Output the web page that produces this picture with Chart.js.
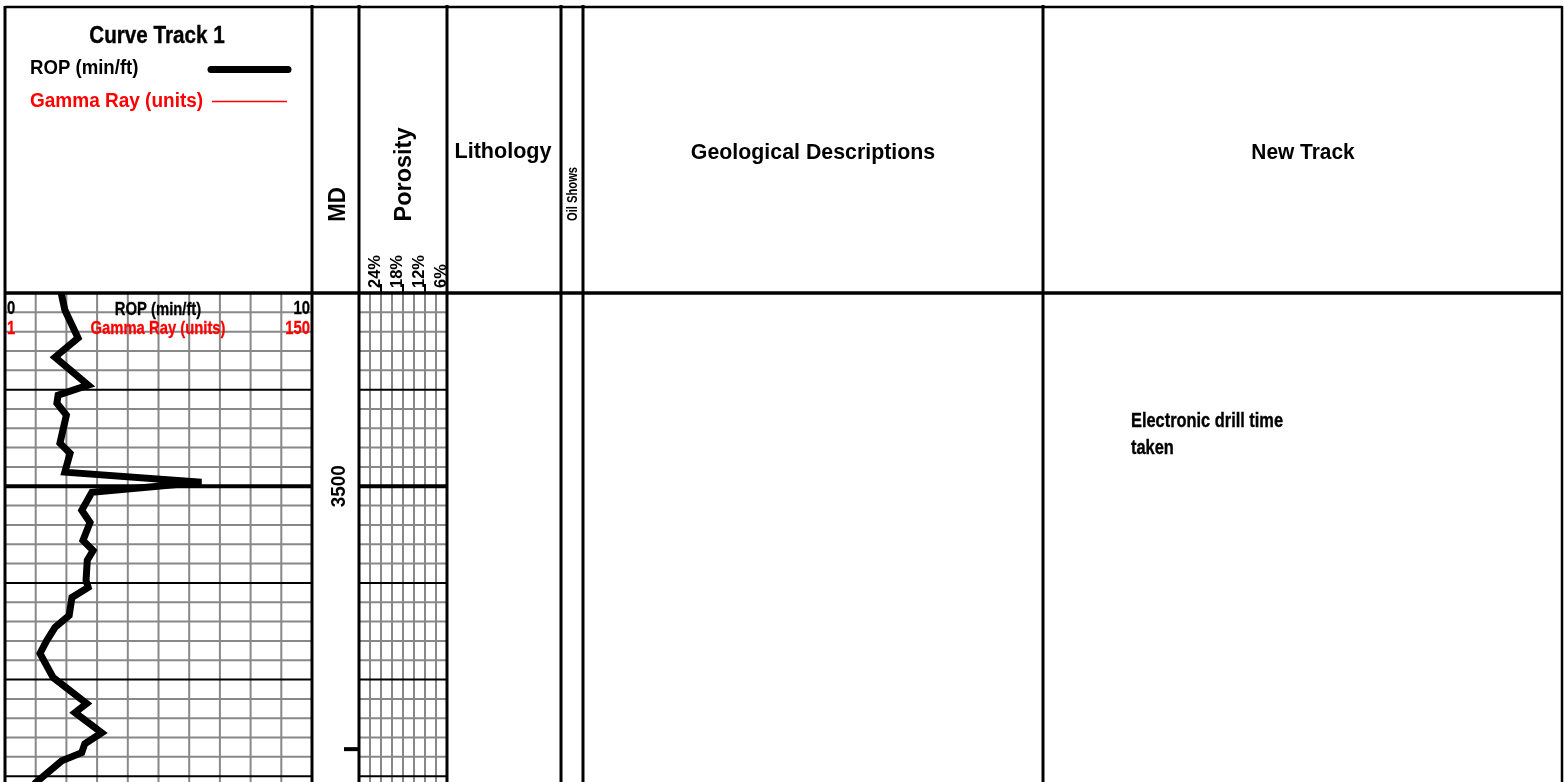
<!DOCTYPE html>
<html><head><meta charset="utf-8">
<script src="https://cdn.jsdelivr.net/npm/chart.js@4.4.1/dist/chart.umd.min.js"></script>
<style>html,body{margin:0;padding:0;background:#fff;overflow:hidden}canvas{display:block}</style>
</head><body>
<canvas id="c" width="1564" height="782"></canvas>
<script>
// ---- data ----
const ropDepth  = [3400,3408.8,3423.3,3433.2,3447.7,3452.8,3457,3463.2,3477.7,3482.9,3492.7,3497.9,3503.1,3512.4,3518.7,3528,3533.2,3538.3,3548.7,3552.3,3557.5,3566.8,3573,3579.8,3586.5,3599,3612.4,3617.1,3627.5,3633.2,3637.8,3642,3652.3,3654];
const ropValues = [1.83,1.95,2.38,1.63,2.71,1.73,1.69,2.0,1.79,2.12,1.95,6.4,2.83,2.5,2.77,2.54,2.87,2.68,2.64,2.71,2.18,2.09,1.63,1.36,1.14,1.57,2.66,2.28,3.15,2.6,2.5,1.85,1.08,0.95];
const gammaDepth = [];
const gammaValues = [];
const depthMin = 3400, depthMax = 3653;
const ropMin = 0, ropMax = 10;
const gammaMin = 1, gammaMax = 150;
const minorDepthStep = 10, midDepthStep = 50;
const mdLabels = [3500];
const mdTickDepths = [3636];
const porosityLeft = 30, porosityRight = 6, porosityMinorStep = 3;
const porosityTicks = [24, 18, 12, 6];
const trackTitles = ['Curve Track 1','MD','Porosity','Lithology','Oil Shows','Geological Descriptions','New Track'];
const notes = [{depth: 3469.3, lines: ['Electronic drill time','taken']}];

const FONT = '"Liberation Sans", Arial, Helvetica, sans-serif';
function txt(ctx, s, x, y, o) {
  ctx.save();
  ctx.translate(x, y);
  if (o.rot) ctx.rotate(-Math.PI / 2);
  ctx.scale(o.sx || 1, 1);
  ctx.font = (o.w || 'bold') + ' ' + o.size + 'px ' + FONT;
  ctx.fillStyle = o.color || '#000';
  ctx.textAlign = o.align || 'left';
  ctx.textBaseline = 'alphabetic';
  ctx.fillText(s, 0, 0);
  if (o.stroke) { ctx.lineWidth = o.stroke; ctx.strokeStyle = o.color || '#000'; ctx.strokeText(s, 0, 0); }
  ctx.restore();
}
function line(ctx, x1, y1, x2, y2, w, c, cap) {
  ctx.save();
  ctx.beginPath();
  ctx.moveTo(x1, y1); ctx.lineTo(x2, y2);
  ctx.lineWidth = w; ctx.strokeStyle = c; ctx.lineCap = cap || 'butt';
  ctx.stroke();
  ctx.restore();
}
// column boundaries (pixels)
const COL = {left: 5, curveR: 312, mdR: 359, porR: 447, lithR: 561, oilR: 583, geoR: 1043, right: 1562};
const HEAD_TOP = 7;
const GRAY = '#888';

const logPlugin = {
  id: 'logPlugin',
  beforeDatasetsDraw(chart) {
    const ctx = chart.ctx, ys = chart.scales.y, xs = chart.scales.x;
    const ca = chart.chartArea;
    const porX = v => COL.mdR + (porosityLeft - v) / (porosityLeft - porosityRight) * (COL.porR - COL.mdR);
    for (let v = ropMin + 1; v < ropMax; v++) {
      const x = xs.getPixelForValue(v);
      line(ctx, x, ca.top, x, ca.bottom, 2, GRAY);
    }
    for (let v = porosityLeft - porosityMinorStep; v > porosityRight; v -= porosityMinorStep) {
      const x = porX(v);
      line(ctx, x, ca.top, x, ca.bottom, 2, GRAY);
    }
    for (let d = depthMin + minorDepthStep; d <= depthMax; d += minorDepthStep) {
      const y = ys.getPixelForValue(d);
      let w = 2, c = GRAY;
      if (mdLabels.includes(d)) { w = 4; c = '#000'; }
      else if (d % midDepthStep === 0) { w = 2; c = '#000'; }
      line(ctx, ca.left, y, ca.right, y, w, c);
      line(ctx, COL.mdR, y, COL.porR, y, w, c);
    }
  },
  afterDraw(chart) {
    const ctx = chart.ctx, ys = chart.scales.y;
    const ca = chart.chartArea;
    const bodyTop = ca.top, bottom = chart.height;
    line(ctx, COL.left, HEAD_TOP, COL.right, HEAD_TOP, 2.5, '#000');
    line(ctx, COL.left, bodyTop, COL.right + 1, bodyTop, 3.5, '#000');
    line(ctx, COL.left, HEAD_TOP - 1, COL.left, bottom, 3, '#000');
    [COL.curveR, COL.mdR, COL.porR, COL.lithR, COL.oilR, COL.geoR].forEach(x => line(ctx, x, HEAD_TOP - 2, x, bottom, 3, '#000'));
    line(ctx, COL.right, HEAD_TOP - 1, COL.right, bottom, 2.5, '#000');

    txt(ctx, trackTitles[0], 157, 43, {size: 24, sx: 0.86, align: 'center', stroke: 0.4});
    txt(ctx, 'ROP (min/ft)', 30, 74, {size: 20, sx: 0.93});
    line(ctx, 211, 69.5, 288, 69.5, 7, '#000', 'round');
    txt(ctx, 'Gamma Ray (units)', 30, 107, {size: 20, sx: 0.95, color: '#ff0000'});
    line(ctx, 212, 101.5, 287, 101.5, 1.5, '#ff0000');
    txt(ctx, trackTitles[1], 345, 204.5, {size: 24, sx: 0.93, align: 'center', rot: true});
    txt(ctx, trackTitles[2], 411, 174.5, {size: 23.5, align: 'center', rot: true});
    const porX = v => COL.mdR + (porosityLeft - v) / (porosityLeft - porosityRight) * (COL.porR - COL.mdR);
    porosityTicks.forEach(v => {
      const x = porX(v);
      txt(ctx, v + '%', x - 1, 288, {size: 16.5, rot: true});
      line(ctx, x, 284, x, bodyTop, 2, '#000');
    });
    txt(ctx, trackTitles[3], 503, 158, {size: 22, sx: 0.98, align: 'center'});
    txt(ctx, trackTitles[4], 577, 194, {size: 14, sx: 0.8, align: 'center', rot: true});
    txt(ctx, trackTitles[5], 813, 159, {size: 22, sx: 0.97, align: 'center'});
    txt(ctx, trackTitles[6], 1303, 159, {size: 22, sx: 0.95, align: 'center'});

    const lab = {size: 19, sx: 0.78, stroke: 0.3};
    txt(ctx, String(ropMin), 7, 314, lab);
    txt(ctx, 'ROP (min/ft)', 158, 315, Object.assign({}, lab, {align: 'center'}));
    txt(ctx, String(ropMax), 310, 314, Object.assign({}, lab, {align: 'right'}));
    const red = Object.assign({}, lab, {color: '#ff0000'});
    txt(ctx, String(gammaMin), 7, 334, red);
    txt(ctx, 'Gamma Ray (units)', 158, 334, Object.assign({}, red, {align: 'center'}));
    txt(ctx, String(gammaMax), 310, 334, Object.assign({}, red, {align: 'right'}));

    mdLabels.forEach(d => txt(ctx, String(d), 345, ys.getPixelForValue(d), {size: 21, sx: 0.9, align: 'center', rot: true}));
    mdTickDepths.forEach(d => { const y = ys.getPixelForValue(d); line(ctx, 344, y, 358, y, 4, '#000'); });

    notes.forEach(n => {
      const y0 = ys.getPixelForValue(n.depth);
      n.lines.forEach((s, i) => txt(ctx, s, 1131, y0 + i * 27, {size: 21, sx: 0.78, stroke: 0.4}));
    });
  }
};

new Chart(document.getElementById('c'), {
  type: 'scatter',
  data: {
    datasets: [
      {label: 'ROP (min/ft)', data: ropDepth.map((d, i) => ({x: ropValues[i], y: d})), showLine: true,
       borderColor: '#000', backgroundColor: '#000', borderWidth: 7, pointRadius: 0, tension: 0,
       xAxisID: 'x', yAxisID: 'y', borderJoinStyle: 'miter'},
      {label: 'Gamma Ray (units)', data: gammaDepth.map((d, i) => ({x: gammaValues[i], y: d})), showLine: true,
       borderColor: '#ff0000', borderWidth: 1.5, pointRadius: 0, xAxisID: 'xg', yAxisID: 'y'}
    ]
  },
  options: {
    responsive: false, animation: false, devicePixelRatio: 1,
    layout: {padding: {left: COL.left, top: 293, right: 1564 - COL.curveR, bottom: 0}},
    plugins: {legend: {display: false}, tooltip: {enabled: false}},
    scales: {
      x: {type: 'linear', min: ropMin, max: ropMax, display: false},
      xg: {type: 'linear', min: gammaMin, max: gammaMax, display: false},
      y: {type: 'linear', min: depthMin, max: depthMax, reverse: true, display: false}
    }
  },
  plugins: [logPlugin]
});
</script>
</body></html>
